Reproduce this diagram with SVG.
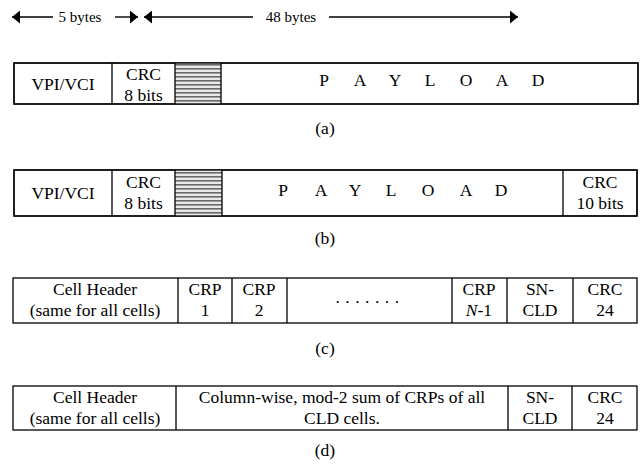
<svg xmlns="http://www.w3.org/2000/svg" width="644" height="466" viewBox="0 0 644 466">
<defs>
<style>
.t{font-family:"Liberation Serif","Times New Roman",serif;font-size:17.5px;fill:#000;text-anchor:middle}
.s{font-family:"Liberation Serif","Times New Roman",serif;font-size:15px;fill:#000;text-anchor:middle}
.b{fill:#fff;stroke:#000;stroke-width:1.3}
.d{stroke:#000;stroke-width:1.3;fill:none}
.a{stroke:#000;stroke-width:1.4;fill:none}
</style>
<pattern id="hatch" width="8" height="4" patternUnits="userSpaceOnUse">
<rect width="8" height="4" fill="#e8e8e8"/>
<rect y="0" width="8" height="1.6" fill="#6a6a6a"/>
</pattern>
<marker id="ah" viewBox="0 0 8 13" refX="8" refY="6.5" markerWidth="8" markerHeight="13" markerUnits="userSpaceOnUse" orient="auto-start-reverse">
<path d="M0,0 L8,6.5 L0,13 Z" fill="#000"/>
</marker>
</defs>

<g id="connectors">
<line class="a" x1="12" y1="17" x2="53" y2="17" marker-start="url(#ah)"/>
<line class="a" x1="115" y1="17" x2="138" y2="17" marker-end="url(#ah)"/>
<line class="a" x1="144" y1="17" x2="253" y2="17" marker-start="url(#ah)"/>
<line class="a" x1="329" y1="17" x2="518" y2="17" marker-end="url(#ah)"/>
</g>
<g id="dim-labels">
<text class="s" x="80" y="22">5 bytes</text>
<text class="s" x="291" y="22">48 bytes</text>
</g>

<g id="cell-a">
<rect class="b" x="14" y="63" width="624" height="41"/>
<rect x="175" y="63" width="46" height="41" fill="url(#hatch)"/>
<path class="d" d="M112,63V104M175,63V104M221,63V104"/>
<rect class="d" x="14" y="63" width="624" height="41"/>
<text class="t" x="63" y="90">VPI/VCI</text>
<text class="t" x="143.5" y="80">CRC</text>
<text class="t" x="143.5" y="101">8 bits</text>
<g class="t">
<text x="324" y="86">P</text><text x="360" y="86">A</text><text x="395" y="86">Y</text><text x="430" y="86">L</text><text x="466" y="86">O</text><text x="502" y="86">A</text><text x="538" y="86">D</text>
</g>
<text class="t" x="325" y="134">(a)</text>
</g>

<g id="cell-b">
<rect class="b" x="14" y="170" width="623" height="46"/>
<rect x="175" y="170" width="47" height="46" fill="url(#hatch)"/>
<path class="d" d="M112,170V216M175,170V216M222,170V216M563,170V216"/>
<rect class="d" x="14" y="170" width="623" height="46"/>
<text class="t" x="63" y="199">VPI/VCI</text>
<text class="t" x="143.5" y="188">CRC</text>
<text class="t" x="143.5" y="209">8 bits</text>
<g class="t">
<text x="283" y="196">P</text><text x="321" y="196">A</text><text x="355" y="196">Y</text><text x="391" y="196">L</text><text x="428" y="196">O</text><text x="466" y="196">A</text><text x="501" y="196">D</text>
</g>
<text class="t" x="600" y="188">CRC</text>
<text class="t" x="600" y="209">10 bits</text>
<text class="t" x="325" y="244">(b)</text>
</g>

<g id="cell-c">
<rect class="b" x="13" y="278" width="624" height="45"/>
<path class="d" d="M178,278V323M232,278V323M287,278V323M452,278V323M507,278V323M573,278V323"/>
<text class="t" x="95" y="295">Cell Header</text>
<text class="t" x="95" y="316">(same for all cells)</text>
<text class="t" x="205" y="295">CRP</text>
<text class="t" x="205" y="316">1</text>
<text class="t" x="259" y="295">CRP</text>
<text class="t" x="259" y="316">2</text>
<text class="t" x="370" y="303" letter-spacing="5.5">.......</text>
<text class="t" x="479" y="295">CRP</text>
<text class="t" x="479" y="316"><tspan font-style="italic">N</tspan>-1</text>
<text class="t" x="540" y="295">SN-</text>
<text class="t" x="540" y="316">CLD</text>
<text class="t" x="605" y="295">CRC</text>
<text class="t" x="605" y="316">24</text>
<text class="t" x="325" y="354">(c)</text>
</g>

<g id="cell-d">
<rect class="b" x="13" y="386" width="624" height="44"/>
<path class="d" d="M176,386V430M508,386V430M572,386V430"/>
<text class="t" x="95" y="403">Cell Header</text>
<text class="t" x="95" y="424">(same for all cells)</text>
<text class="t" x="342" y="403">Column-wise, mod-2 sum of  CRPs of all</text>
<text class="t" x="342" y="424">CLD cells.</text>
<text class="t" x="540" y="403">SN-</text>
<text class="t" x="540" y="424">CLD</text>
<text class="t" x="605" y="403">CRC</text>
<text class="t" x="605" y="424">24</text>
<text class="t" x="325" y="456">(d)</text>
</g>
</svg>
